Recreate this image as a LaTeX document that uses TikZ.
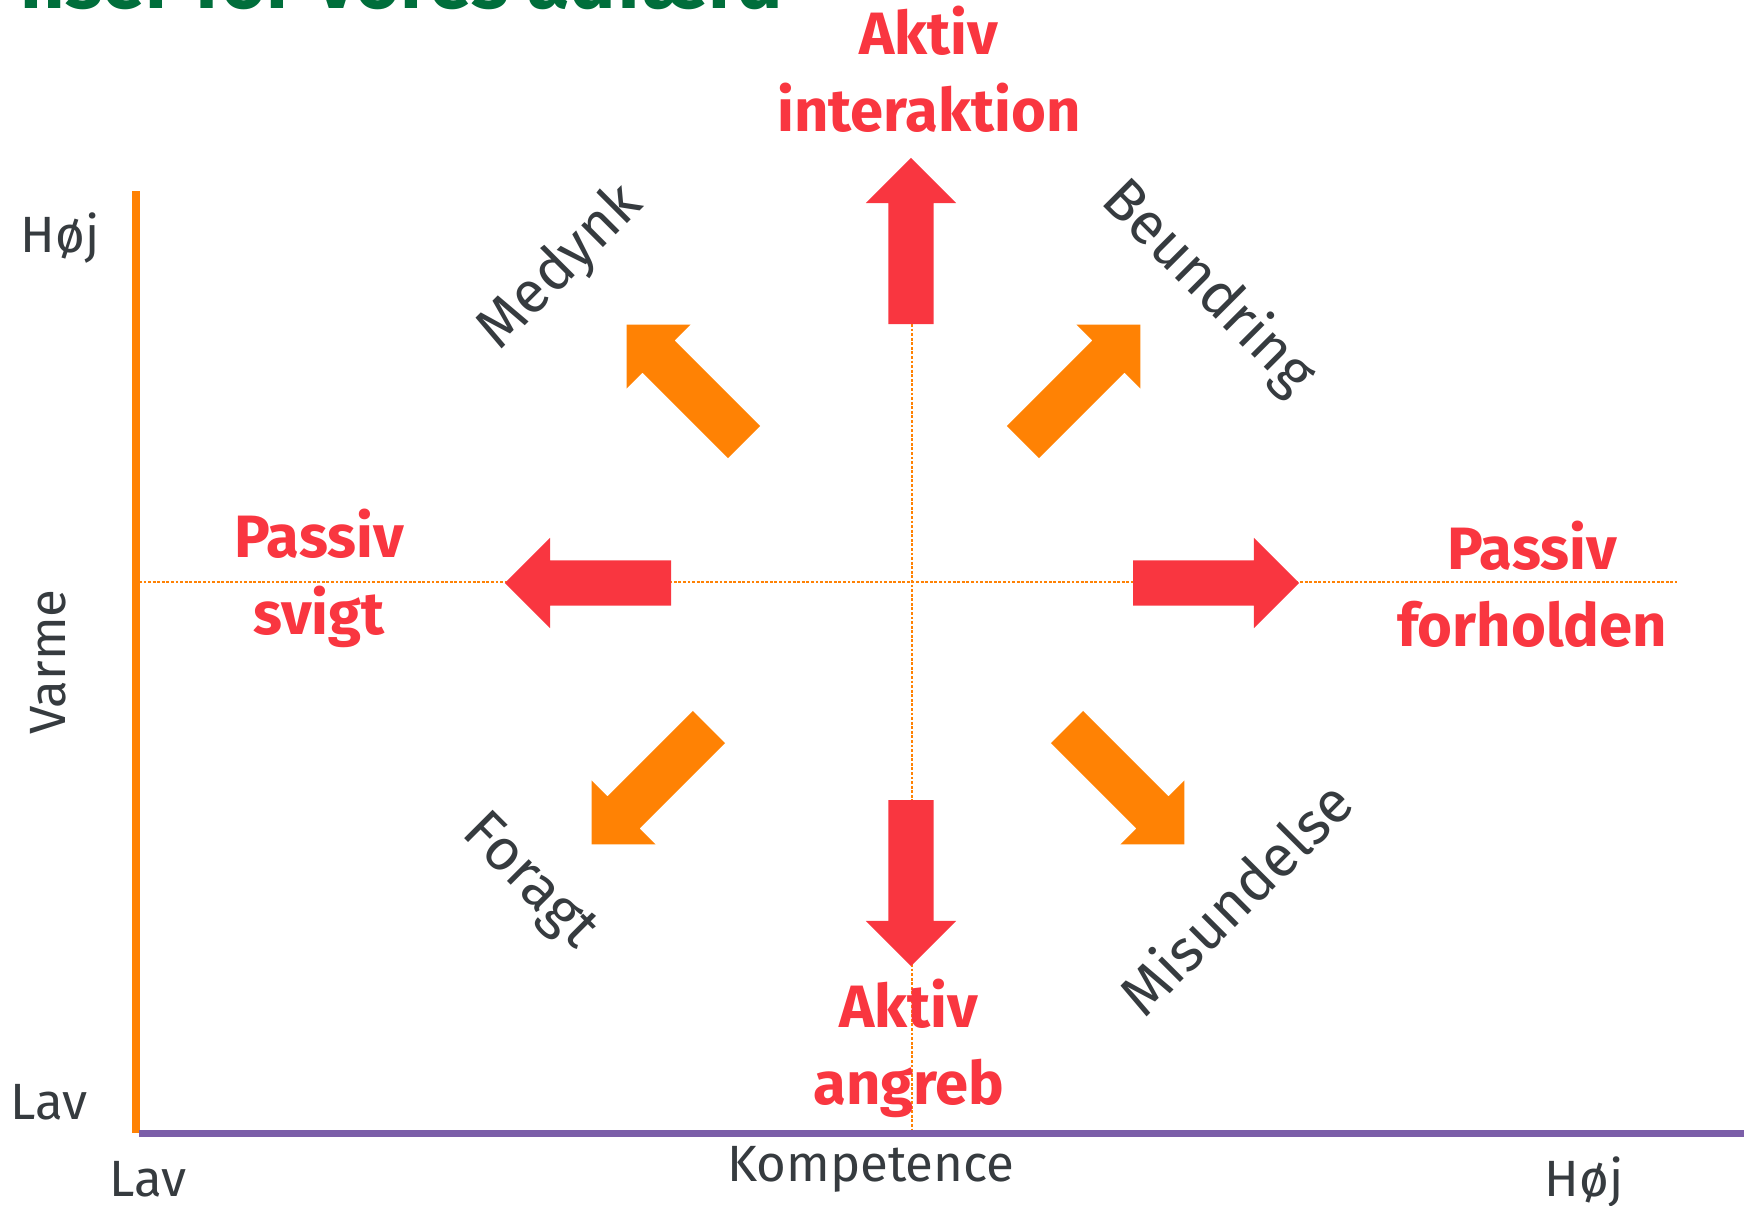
\documentclass[tikz,border=0pt]{standalone}
\usepackage{fontspec}
\setmainfont{Fira Sans}
\usetikzlibrary{shapes.arrows, positioning}
\definecolor{arrowred}{HTML}{F93640}
\definecolor{axisorange}{HTML}{FF8204}
\definecolor{axispurple}{HTML}{7B5EA8}
\definecolor{textgray}{HTML}{363B3F}
\definecolor{titlegreen}{HTML}{006E3B}

\begin{document}
\begin{tikzpicture}[
    x=0.01cm, y=-0.01cm,
    blockarrow/.style={single arrow, draw=none, anchor=tail, inner sep=0pt, inner ysep=0.22cm, outer sep=0pt, minimum width=0.89cm, minimum height=1.66cm, single arrow head extend=0.225cm},
    redarrow/.style={blockarrow, fill=arrowred},
    orangearrow/.style={blockarrow, fill=axisorange},
    reaction/.style={text=arrowred, font=\fontsize{17}{21.9}\selectfont\bfseries, align=center, inner sep=0pt},
    emotion/.style={text=textgray, font=\fontsize{16.6}{20}\selectfont, inner sep=0pt},
    scalelabel/.style={text=textgray, font=\fontsize{14.5}{17}\selectfont, inner sep=0pt, anchor=base},
    guide/.style={axisorange, line width=0.5pt, dash pattern=on 0.8pt off 0.5pt},
]
\useasboundingbox (0,0) rectangle (1744,1205);

% title, cut off by the top edge
\begin{scope}
    \clip (0,0) rectangle (1744,1205);
    \node[anchor=base east, text=titlegreen, font=\fontsize{22}{26}\selectfont\bfseries, inner sep=0pt] (title) at (784,8) {nser for vores adfærd};
\end{scope}

% axes
\coordinate (ytop) at (136,191);
\coordinate (ybottom) at (136,1133);
\coordinate (xleft) at (139,1133);
\coordinate (xright) at (1744,1133);
\draw[axisorange, line width=0.07cm] (ytop) -- (ybottom);
\draw[axispurple, line width=0.07cm] (xleft) -- (xright);

% dashed cross
\coordinate (hleft) at (139,582);
\coordinate (hright) at (1677,582);
\coordinate (vtop) at (912,324);
\coordinate (vbottom) at (912,1129);
\draw[guide] (hleft) -- (hright);
\draw[guide] (vtop) -- (vbottom);

% red arrows
\node[redarrow, rotate=90] (up) at (911,324) {};
\node[redarrow, rotate=-90] (down) at (911,800) {};
\node[redarrow, rotate=180] (left) at (671,583) {};
\node[redarrow] (right) at (1133,583) {};

% orange arrows
\node[orangearrow, rotate=135] (upleft) at (744,442) {};
\node[orangearrow, rotate=45] (upright) at (1023,442) {};
\node[orangearrow, rotate=-135] (downleft) at (709,727) {};
\node[orangearrow, rotate=-45] (downright) at (1067,727) {};

% behaviour
\node[reaction] (interaktion) at (929,69) {Aktiv\\interaktion};
\node[reaction] (angreb) at (909,1048) {Aktiv\\angreb};
\node[reaction] (svigt) at (319,578) {Passiv\\svigt};
\node[reaction] (forholden) at (1532,584) {Passiv\\forholden};

% emotions
\node[emotion, rotate=45] (medynk) at (561,268) {Medynk};
\node[emotion, rotate=-45] (beundring) at (1208,288) {Beundring};
\node[emotion, rotate=-45] (foragt) at (528,883) {Foragt};
\node[emotion, rotate=45] (misundelse) at (1235,897) {Misundelse};

% scale labels
\node[scalelabel] (varmehoj) at (60,252) {Høj};
\node[scalelabel] (varmelav) at (49,1119) {Lav};
\node[scalelabel, rotate=90] (varme) at (65,662) {Varme};
\node[scalelabel] (kompetencelav) at (148,1196) {Lav};
\node[scalelabel] (kompetence) at (871,1181) {Kompetence};
\node[scalelabel] (kompetencehoj) at (1584,1196) {Høj};
\end{tikzpicture}
\end{document}
